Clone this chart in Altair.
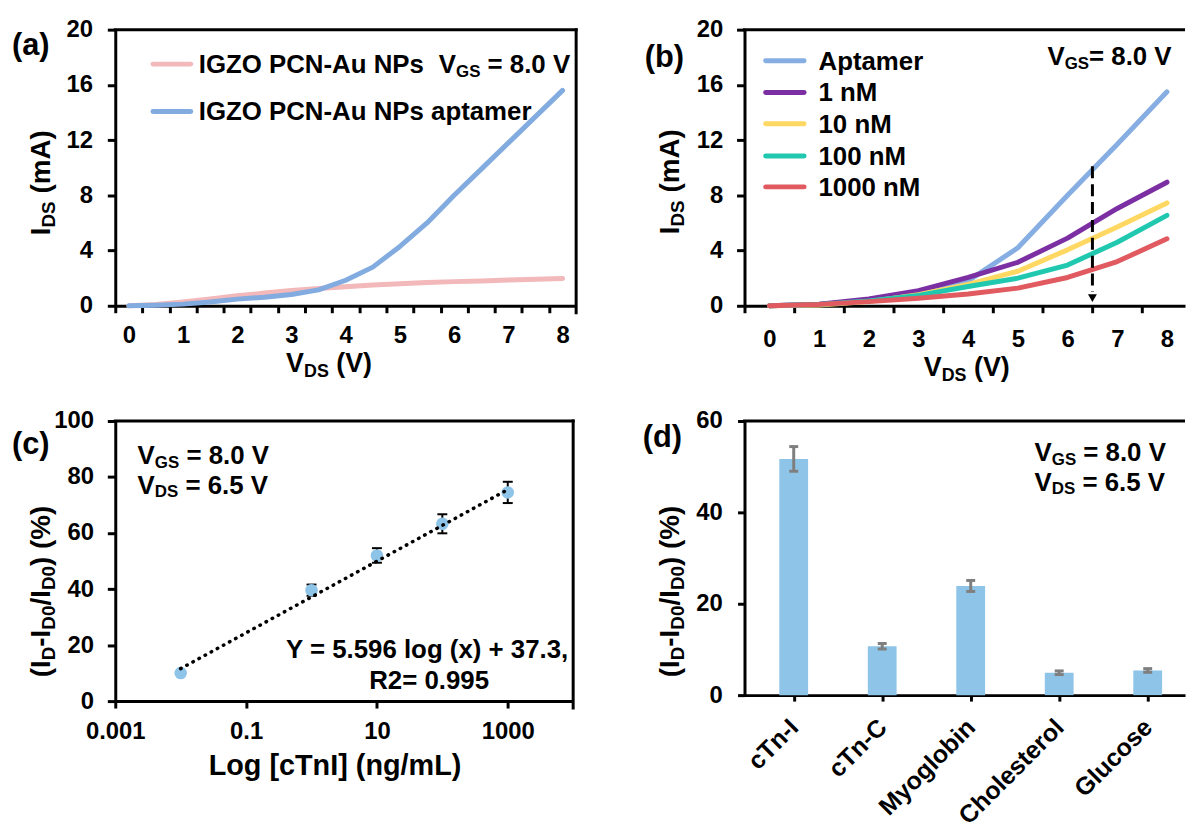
import json
import altair as alt
import pandas as pd

FONT = "Liberation Sans"

# ---------------- data ----------------
# (a) output curves, V_DS from 0 to 8 V in 0.5 V steps
a_vds = [0, 0.5, 1, 1.5, 2, 2.5, 3, 3.5, 4, 4.5, 5, 5.5, 6, 6.5, 7, 7.5, 8]
a_pcn = [0, 0.10, 0.28, 0.50, 0.72, 0.92, 1.10, 1.25, 1.38, 1.50, 1.60, 1.68, 1.75, 1.80, 1.86, 1.92, 1.98]
a_apt = [0, 0.04, 0.12, 0.28, 0.48, 0.62, 0.82, 1.15, 1.85, 2.80, 4.30, 6.00, 8.00, 9.90, 11.80, 13.70, 15.60]
a_names = ["IGZO PCN-Au NPs", "IGZO PCN-Au NPs aptamer"]
a_colors = ["#F2B8BA", "#82ABE0"]

# (b) output curves at different cTnI concentrations
b_vds = [0, 1, 2, 3, 4, 5, 6, 7, 8]
b_names = ["Aptamer", "1 nM", "10 nM", "100 nM", "1000 nM"]
b_apt = [0, 0.10, 0.40, 0.80, 1.80, 4.20, 8.00, 11.70, 15.50]
b_1 = [0, 0.12, 0.50, 1.10, 2.05, 3.15, 4.90, 7.05, 8.95]
b_10 = [0, 0.05, 0.30, 0.80, 1.55, 2.50, 4.05, 5.70, 7.45]
b_100 = [0, 0.10, 0.35, 0.75, 1.40, 2.00, 2.95, 4.60, 6.55]
b_1000 = [0, 0.10, 0.30, 0.55, 0.85, 1.28, 2.05, 3.20, 4.85]
b_colors = ["#86AEE3", "#7B2FA2", "#FFD863", "#21C8B0", "#E05A60"]
b_arrow_x = [6.5]
b_arrow_top = [10.1]
b_arrow_bottom = [1.0]
b_arrow_head = [0.55]

# (c) calibration
c_conc = [0.01, 1, 10, 100, 1000]
c_resp = [10.0, 39.6, 52.0, 63.3, 74.5]
c_err = [0.5, 2.0, 2.6, 3.4, 3.8]
c_fit_x = [0.01, 1000]
c_fit_y = [11.6, 75.5]

# (d) selectivity
d_names = ["cTn-I", "cTn-C", "Myoglobin", "Cholesterol", "Glucose"]
d_vals = [51.7, 10.7, 23.9, 4.9, 5.4]
d_err = [2.7, 0.6, 1.2, 0.4, 0.4]

# tick values
ab_y_ticks = [0, 4, 8, 12, 16, 20]
a_x_ticks = a_vds
b_x_ticks = [0, 1, 2, 3, 4, 5, 6, 7, 8]
c_x_ticks = [0.001, 0.1, 10, 1000]
c_y_ticks = [0, 20, 40, 60, 80, 100]
d_y_ticks = [0, 20, 40, 60]

BLUE_PT = "#8EC4E8"

# ---------------- helpers ----------------
ONE = pd.DataFrame({"k": [0]})

W_ARIAL_B = {
    " ": 278, "(": 333, ")": 333, "-": 333, "/": 278, "%": 889, "=": 584, ".": 278,
    ",": 278, "+": 584, "[": 333, "]": 333,
    "A": 722, "C": 722, "D": 722, "G": 778, "I": 278, "L": 611, "M": 833, "N": 722,
    "O": 778, "P": 667, "R": 722, "S": 667, "T": 611, "V": 667, "Y": 667, "Z": 611,
    "a": 556, "b": 611, "c": 556, "e": 556, "g": 611, "l": 278, "m": 889, "n": 611,
    "o": 611, "p": 611, "r": 389, "s": 556, "t": 333, "u": 611, "x": 556,
}

TICK_FS = 24
NOTE_FS = 26
NOTE_SUB = 17
TITLE_FS = 28
TITLE_SUB = 19
XT_FS = 27
PANEL_FS = 31


def tw(s, fs):
    return sum(W_ARIAL_B.get(ch, 556) for ch in s) * fs / 1000.0


def txt(x, y, s, fs, align="left", angle=None):
    kw = dict(text=s, font=FONT, fontWeight="bold", fontSize=fs, align=align,
              baseline="alphabetic", color="black")
    if angle is not None:
        kw["angle"] = angle
    return alt.Chart(ONE).mark_text(**kw).encode(x=alt.value(x), y=alt.value(y))


def rich(x0, y0, segs, fs, sub_fs, sub_dy, rotate=False):
    out = []
    cur = 0.0
    for s, sub in segs:
        f = sub_fs if sub else fs
        lead = len(s) - len(s.lstrip(" "))
        body = s.strip(" ")
        trail = len(s) - lead - len(body)
        cur += tw(" " * lead, f)
        if body:
            if rotate:
                out.append(txt(x0 + (sub_dy if sub else 0), y0 - cur, body, f, angle=270))
            else:
                out.append(txt(x0 + cur, y0 + (sub_dy if sub else 0), body, f))
        cur += tw(body, f) + tw(" " * trail, f)
    return out


def axis(values, pad, tick, fs=TICK_FS, **kw):
    return alt.Axis(values=values, title=None, grid=False, domain=True, domainColor="black",
                    domainWidth=3, ticks=True, tickColor="black", tickWidth=3, tickSize=tick,
                    labelFont=FONT, labelFontWeight="bold", labelFontSize=fs, labelColor="black",
                    labelPadding=pad, labelOverlap=False, labelFlush=False, **kw)


def frame(W, H, right=True, tick=7):
    cap = "square" if right else "butt"
    top = alt.Chart(ONE).mark_rule(color="black", strokeWidth=3, strokeCap=cap).encode(
        x=alt.value(0 if right else -1.5), x2=alt.value(W), y=alt.value(0))
    out = [top]
    if right:
        out.append(alt.Chart(ONE).mark_rule(color="black", strokeWidth=3, strokeCap="square").encode(
            x=alt.value(W), y=alt.value(0), y2=alt.value(H + tick)))
    return out


def legend_line(x1, x2, y, color):
    return alt.Chart(ONE).mark_rule(color=color, strokeWidth=5, strokeCap="round").encode(
        x=alt.value(x1), x2=alt.value(x2), y=alt.value(y))


# ---------------- geometry ----------------
W_A, H_1 = 464, 278
W_C, H_C = 461, 282
W_R = 443.5
H_D = 276
A_UNIT = W_A / 8.5
B_UNIT = 50.04
D_UNIT = 91.15

SUB = [("V", False), ("GS", True)]
VDS_T = [("V", False), ("DS", True), (" (V)", False)]
IDS_T = [("I", False), ("DS", True), (" (mA)", False)]
YT = [("(I", False), ("D", True), ("-I", False), ("D0", True), ("/I", False), ("D0", True), (") (%)", False)]

# ---------------- panel (a) ----------------
ax_a_x = axis(a_x_ticks, 11, 7, tickOffset=-A_UNIT / 4, labelOffset=A_UNIT / 4,
              labelExpr="datum.value % 1 == 0 ? format(datum.value, '.0f') : ''")
ax_a_y = axis(ab_y_ticks, 15, 8, format="d")
sx_a = alt.Scale(domain=[-0.25, 8.25], nice=False, zero=False)
sy_a = alt.Scale(domain=[0, 20], nice=False)

df_a = pd.DataFrame({"vds": a_vds, "pcn": a_pcn, "apt": a_apt})
layers_a = []
for col, color in zip(["pcn", "apt"], a_colors):
    layers_a.append(alt.Chart(df_a).mark_line(color=color, strokeWidth=5, strokeCap="round",
                                               strokeJoin="round").encode(
        x=alt.X("vds:Q", scale=sx_a, axis=ax_a_x),
        y=alt.Y(f"{col}:Q", scale=sy_a, axis=ax_a_y)))
layers_a += frame(W_A, H_1)
layers_a.append(legend_line(38, 76, 34.7, a_colors[0]))
layers_a.append(legend_line(38, 76, 82.3, a_colors[1]))
layers_a.append(txt(84, 43.5, a_names[0], NOTE_FS))
layers_a.append(txt(84, 91, a_names[1], NOTE_FS))
layers_a += rich(325.7, 43.5, SUB + [(" = 8.0 V", False)], NOTE_FS, NOTE_SUB, 4)
layers_a.append(txt(-104, 26, "(a)", PANEL_FS))
layers_a += rich(172, 345, VDS_T, XT_FS, 18, 5)
layers_a += rich(-66, 207, IDS_T, TITLE_FS, TITLE_SUB, 5, rotate=True)
panel_a = alt.layer(*layers_a).properties(width=W_A, height=H_1)

# ---------------- panel (b) ----------------
ax_b_x = axis(b_x_ticks, 15, 7, tickOffset=-B_UNIT / 2, labelOffset=B_UNIT / 2,
              labelExpr="format(datum.value, '.0f')")
ax_b_y = axis(ab_y_ticks, 14, 8, format="d")
sx_b = alt.Scale(domain=[-0.5, -0.5 + W_R / B_UNIT], nice=False, zero=False)
sy_b = alt.Scale(domain=[0, 20], nice=False)

df_b = pd.DataFrame({"vds": b_vds, "s0": b_apt, "s1": b_1, "s2": b_10, "s3": b_100, "s4": b_1000})
layers_b = []
for i, color in enumerate(b_colors):
    layers_b.append(alt.Chart(df_b).mark_line(color=color, strokeWidth=5, strokeCap="round",
                                               strokeJoin="round").encode(
        x=alt.X("vds:Q", scale=sx_b, axis=ax_b_x),
        y=alt.Y(f"s{i}:Q", scale=sy_b, axis=ax_b_y)))
df_arrow = pd.DataFrame({"x": b_arrow_x, "top": b_arrow_top, "bot": b_arrow_bottom, "head": b_arrow_head})
layers_b.append(alt.Chart(df_arrow).mark_rule(color="black", strokeWidth=3, strokeDash=[12, 6]).encode(
    x=alt.X("x:Q", scale=sx_b, axis=ax_b_x), y=alt.Y("top:Q", scale=sy_b, axis=ax_b_y), y2="bot:Q"))
layers_b.append(alt.Chart(df_arrow).mark_point(shape="triangle-down", filled=True, size=80,
                                               color="black", opacity=1).encode(
    x=alt.X("x:Q", scale=sx_b, axis=ax_b_x), y=alt.Y("head:Q", scale=sy_b, axis=ax_b_y)))
layers_b += frame(W_R, H_1, right=False)
leg_y = [31.3, 63.3, 94.7, 127.3, 158.3]
for name, color, yy in zip(b_names, b_colors, leg_y):
    layers_b.append(legend_line(21.3, 60, yy, color))
    layers_b.append(txt(74.5, yy + 9, name, NOTE_FS))
layers_b += rich(305, 36, SUB + [("= 8.0 V", False)], NOTE_FS, NOTE_SUB, 4)
layers_b.append(txt(-100.5, 38, "(b)", PANEL_FS))
layers_b += rich(180.5, 349, VDS_T, XT_FS, 18, 5)
layers_b += rich(-66, 206, IDS_T, TITLE_FS, TITLE_SUB, 5, rotate=True)
panel_b = alt.layer(*layers_b).properties(width=W_R, height=H_1)

# ---------------- panel (c) ----------------
ax_c_x = axis(c_x_ticks, 12, 7, format="~g")
ax_c_y = axis(c_y_ticks, 14, 8, format="d")
sx_c = alt.Scale(type="log", domain=[0.001, 10000], nice=False)
sy_c = alt.Scale(domain=[0, 100], nice=False)

df_c = pd.DataFrame({"x": c_conc, "y": c_resp, "err": c_err})
df_c["lo"] = df_c["y"] - df_c["err"]
df_c["hi"] = df_c["y"] + df_c["err"]
df_fit = pd.DataFrame({"x": c_fit_x, "y": c_fit_y})
Xc = alt.X("x:Q", scale=sx_c, axis=ax_c_x)
layers_c = [
    alt.Chart(df_c).mark_rule(color="black", strokeWidth=2).encode(
        x=Xc, y=alt.Y("lo:Q", scale=sy_c, axis=ax_c_y), y2="hi:Q"),
    alt.Chart(df_c).mark_tick(color="black", orient="horizontal", size=10, thickness=2, opacity=1).encode(
        x=Xc, y=alt.Y("lo:Q", scale=sy_c, axis=ax_c_y)),
    alt.Chart(df_c).mark_tick(color="black", orient="horizontal", size=10, thickness=2, opacity=1).encode(
        x=Xc, y=alt.Y("hi:Q", scale=sy_c, axis=ax_c_y)),
    alt.Chart(df_c).mark_circle(size=160, color=BLUE_PT, opacity=1).encode(
        x=Xc, y=alt.Y("y:Q", scale=sy_c, axis=ax_c_y)),
    alt.Chart(df_fit).mark_line(color="black", strokeWidth=3.5, strokeDash=[0.5, 6.5], strokeCap="round").encode(
        x=Xc, y=alt.Y("y:Q", scale=sy_c, axis=ax_c_y)),
]
layers_c += frame(W_C, H_C)
layers_c += rich(22.5, 43, SUB + [(" = 8.0 V", False)], NOTE_FS, NOTE_SUB, 4)
layers_c += rich(22.5, 73, [("V", False), ("DS", True), (" = 6.5 V", False)], NOTE_FS, NOTE_SUB, 4)
layers_c.append(txt(456, 239, "Y = 5.596 log (x) + 37.3,", NOTE_FS, align="right"))
layers_c.append(txt(316, 270, "R2= 0.995", NOTE_FS, align="center"))
layers_c.append(txt(-104, 33, "(c)", PANEL_FS))
layers_c.append(txt(94, 356, "Log [cTnI] (ng/mL)", 29))
layers_c += rich(-66, 258, YT, TITLE_FS, TITLE_SUB, 5, rotate=True)
panel_c = alt.layer(*layers_c).properties(width=W_C, height=H_C)

# ---------------- panel (d) ----------------
ax_d_x = axis([0, 1, 2, 3, 4], 22, 6, fs=25, labelAngle=315, labelAlign="right",
              labelBaseline="middle", labelExpr=f"{json.dumps(d_names)}[datum.value]")
ax_d_y = axis(d_y_ticks, 15.5, 7, format="d")
sx_d = alt.Scale(domain=[-0.5, -0.5 + W_R / D_UNIT], nice=False, zero=False)
sy_d = alt.Scale(domain=[0, 60], nice=False)

df_d = pd.DataFrame({"i": list(range(len(d_names))), "v": d_vals, "err": d_err})
df_d["lo"] = df_d["v"] - df_d["err"]
df_d["hi"] = df_d["v"] + df_d["err"]
Xd = alt.X("i:Q", scale=sx_d, axis=ax_d_x)
layers_d = [
    alt.Chart(df_d).mark_bar(size=29, color=BLUE_PT, orient="vertical").encode(
        x=Xd, y=alt.Y("v:Q", scale=sy_d, axis=ax_d_y)),
    alt.Chart(df_d).mark_rule(color="#7F7F7F", strokeWidth=3).encode(
        x=Xd, y=alt.Y("lo:Q", scale=sy_d, axis=ax_d_y), y2="hi:Q"),
    alt.Chart(df_d).mark_tick(color="#7F7F7F", orient="horizontal", size=9, thickness=3, opacity=1).encode(
        x=Xd, y=alt.Y("lo:Q", scale=sy_d, axis=ax_d_y)),
    alt.Chart(df_d).mark_tick(color="#7F7F7F", orient="horizontal", size=9, thickness=3, opacity=1).encode(
        x=Xd, y=alt.Y("hi:Q", scale=sy_d, axis=ax_d_y)),
]
layers_d += frame(W_R, H_D, right=False)
layers_d += rich(292, 40, SUB + [(" = 8.0 V", False)], NOTE_FS, NOTE_SUB, 4)
layers_d += rich(292, 70, [("V", False), ("DS", True), (" = 6.5 V", False)], NOTE_FS, NOTE_SUB, 4)
layers_d.append(txt(-102.5, 26, "(d)", PANEL_FS))
layers_d += rich(-66, 258, YT, TITLE_FS, TITLE_SUB, 5, rotate=True)
panel_d = alt.layer(*layers_d).properties(width=W_R, height=H_D)

# ---------------- layout ----------------
chart = alt.concat(
    panel_a, panel_b, panel_c, panel_d,
    columns=2,
    spacing=alt.RowColnumber(row=116, column=169.5),
    bounds="flush",
    align="each",
).properties(
    padding={"left": 4, "top": 7, "right": 0, "bottom": 0},
    background="white",
).configure_view(strokeWidth=0)

chart.save("out.html", embed_options={"renderer": "svg", "actions": False})
